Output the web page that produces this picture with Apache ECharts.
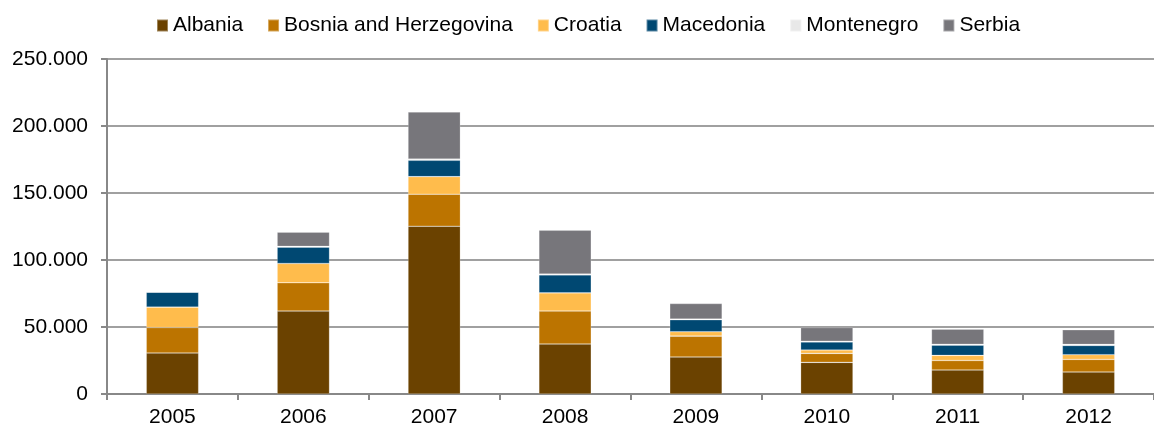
<!DOCTYPE html>
<html>
<head>
<meta charset="utf-8">
<title>Stacked bars 2005-2012</title>
<script src="https://cdn.jsdelivr.net/npm/echarts@6/dist/echarts.min.js"></script>
<style>
  html, body { margin: 0; padding: 0; background: #ffffff; }
  #chart { width: 1154px; height: 430px; }
</style>
</head>
<body>
<div id="chart"></div>
<script>
// Years on the category axis
const years = ['2005', '2006', '2007', '2008', '2009', '2010', '2011', '2012'];

// Values per country, stacked in this order from the bottom
const albania    = [30600, 61900, 125200, 37300, 27600, 23600, 17900, 16400];
const bosnia     = [19000, 21100, 23900, 24600, 15600, 6700, 7100, 9400];
const croatia    = [15200, 14400, 13100, 13600, 3200, 2500, 3800, 3500];
const macedonia  = [11200, 12200, 12200, 13400, 9000, 6000, 7700, 6900];
const montenegro = [0, 600, 900, 700, 500, 600, 600, 800];
const serbia     = [0, 10600, 35100, 32600, 11600, 10200, 11300, 10900];

// Value axis range
const yMin = 0;
const yMax = 250000;
const yStep = 50000;

const seriesDefs = [
  { name: 'Albania', data: albania, color: '#6B4200' },
  { name: 'Bosnia and Herzegovina', data: bosnia, color: '#BC7400' },
  { name: 'Croatia', data: croatia, color: '#FFBC4C' },
  { name: 'Macedonia', data: macedonia, color: '#004872' },
  { name: 'Montenegro', data: montenegro, color: '#E8E8E8' },
  { name: 'Serbia', data: serbia, color: '#77767B' }
];

const font = '"Liberation Sans", Arial, sans-serif';

// Thousands separated with a dot
function fmt(v) {
  return String(Math.round(v)).replace(/\B(?=(\d{3})+(?!\d))/g, '.');
}

const chart = echarts.init(document.getElementById('chart'), null, { renderer: 'canvas' });

chart.setOption({
  animation: false,
  backgroundColor: '#ffffff',
  textStyle: { fontFamily: font },
  legend: {
    left: 151,
    top: 10,
    itemWidth: 11,
    itemHeight: 12,
    itemGap: 24,
    icon: 'rect',
    textStyle: { fontFamily: font, fontSize: 21, color: '#000' },
    data: seriesDefs.map(s => s.name)
  },
  grid: {
    left: 107,
    right: -4,
    top: 59,
    bottom: 36,
    containLabel: false
  },
  xAxis: {
    type: 'category',
    data: years,
    axisLine: { lineStyle: { color: '#888888', width: 2 } },
    axisTick: { show: true, length: 6, inside: false, alignWithLabel: false, lineStyle: { color: '#888888', width: 2 } },
    axisLabel: { fontFamily: font, fontSize: 21, color: '#000', margin: 13 },
    splitLine: { show: false }
  },
  yAxis: {
    type: 'value',
    min: yMin,
    max: yMax,
    interval: yStep,
    axisLine: { show: true, lineStyle: { color: '#888888', width: 2 } },
    axisTick: { show: true, length: 6, lineStyle: { color: '#888888', width: 2 } },
    axisLabel: { fontFamily: font, fontSize: 21, color: '#000', margin: 19, formatter: fmt },
    splitLine: { show: true, lineStyle: { color: '#A0A0A0', width: 2 } }
  },
  series: seriesDefs.map(s => ({
    name: s.name,
    type: 'bar',
    stack: 'total',
    data: s.data,
    barCategoryGap: '60%',
    itemStyle: { color: s.color, borderColor: 'rgba(255,255,255,0.35)', borderWidth: 0.6 },
    emphasis: { disabled: true }
  }))
});
</script>
</body>
</html>
